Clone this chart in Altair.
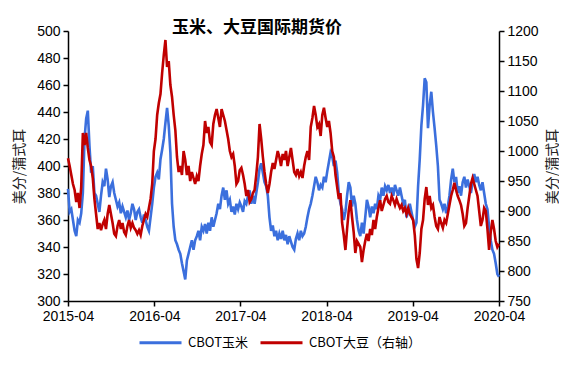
import altair as alt
import pandas as pd

TITLE = "玉米、大豆国际期货价"
UNIT = "美分/蒲式耳"
SERIES = ["CBOT玉米", "CBOT大豆（右轴）"]
COLORS = ["#3B6FDD", "#C00000"]
START = "2015-04-01"
TICK_YEARS = [2015, 2016, 2017, 2018, 2019, 2020]

# weekly CBOT corn (cents/bushel)
corn = [
    383, 366, 368, 360, 352, 348, 360, 358, 365, 380, 420, 435, 441,
    415, 395, 400, 380, 378, 372, 366, 378, 388, 385, 398, 390, 377,
    385, 388, 380, 375, 370, 373, 365, 370, 366, 362, 367, 360, 365,
    372, 368, 360, 366, 368, 362, 358, 364, 360, 355, 352, 362, 372,
    384, 392, 395, 390, 405, 412, 420, 432, 443, 430, 410, 372, 355,
    345, 342, 338, 335, 328, 322, 316, 330, 335, 340, 345, 338, 345,
    348, 352, 345, 355, 352, 357, 350, 358, 352, 362, 355, 360, 365,
    372, 368, 378, 384, 375, 382, 372, 375, 366, 370, 364, 372, 368,
    373, 370, 366, 374, 372, 378, 382, 372, 378, 372, 380, 388, 398,
    402, 395, 388, 385, 378, 362, 352, 356, 348, 352, 345, 350, 346,
    352, 345, 349, 342, 348, 344, 340, 338, 346, 350, 345, 352, 348,
    350, 355, 362, 368, 372, 378, 385, 392, 388, 382, 386, 384, 392,
    388, 396, 403, 410, 407, 400, 404, 395, 380, 372, 368, 360, 366,
    378, 388, 384, 370, 378, 372, 360, 352, 348, 358, 350, 362, 375,
    370, 362, 370, 365, 372, 368, 378, 375, 384, 378, 385, 382, 386,
    380, 384, 378, 386, 382, 378, 384, 378, 372, 375, 362, 366, 372,
    366, 360, 355, 358, 385, 405, 430, 445, 465, 462, 428, 445, 455,
    440, 428, 415, 400, 375, 372, 368, 372, 365, 370, 378, 390, 398,
    388, 392, 380, 385, 378, 388, 392, 384, 390, 385, 380, 388, 394,
    388, 392, 386, 382, 388, 380, 372, 368, 355, 345, 338, 335, 328,
    320, 318,
]

# weekly CBOT soybeans (cents/bushel)
soy = [
    988, 975, 960, 945, 935, 915, 930, 905, 940, 1030, 1010, 1030, 1005,
    985, 975, 955, 920, 895, 870, 880, 868, 878, 885, 870, 895, 910,
    895, 880, 862, 858, 875, 885, 870, 880, 865, 860, 875, 885, 872,
    880, 872, 868, 862, 868, 860, 875, 885, 895, 890, 905, 920, 945,
    1000, 1020, 1060, 1080, 1095, 1130, 1160, 1185, 1140, 1150, 1110, 1090, 1060,
    1035, 990, 965, 975, 960, 1000, 985, 960, 975, 950, 965, 955, 945,
    958, 950, 975, 995, 1010, 1050, 1030, 1040, 1015, 1010, 1045, 1060, 1070,
    1055, 1040, 1070, 1060, 1050, 1035, 1020, 1000, 990, 995, 975, 945, 950,
    968, 972, 960, 945, 925, 935, 915, 920, 930, 935, 960, 990, 1045,
    1020, 990, 965, 945, 930, 945, 965, 980, 970, 985, 1000, 990, 975,
    995, 985, 1000, 975, 990, 1005, 985, 965, 960, 970, 958, 965, 955,
    975, 990, 1000, 985, 1040, 1055, 1075, 1060, 1040, 1045, 1025, 1060, 1072,
    1055, 1040, 1050, 1030, 1000, 990, 960, 940, 920, 930, 880, 860, 835,
    870, 900, 918, 890, 865, 830, 850, 845, 840, 815, 835, 850, 862,
    850, 870, 860, 885, 870, 890, 905, 918, 900, 910, 920, 925, 915,
    912, 925, 918, 910, 920, 912, 905, 910, 900, 905, 895, 905, 895,
    890, 885, 860, 820, 805, 830, 870, 885, 920, 940, 910, 925, 905,
    910, 890, 875, 870, 890, 880, 872, 885, 880, 895, 910, 925, 935,
    947, 935, 925, 918, 910, 895, 875, 880, 905, 925, 945, 955, 945,
    935, 925, 900, 875, 885, 905, 900, 870, 835, 865, 885, 870, 850,
    840, 845,
]

dates = pd.date_range(START, periods=len(corn), freq="7D")
df_corn = pd.DataFrame({"date": dates, "value": corn, "series": SERIES[0]})
df_soy = pd.DataFrame({"date": dates[: len(soy)], "value": soy, "series": SERIES[1]})

FONT = "Liberation Sans"
CJK = "Noto Sans CJK SC"

x_enc = alt.X(
    "date:T",
    scale=alt.Scale(domain=[alt.DateTime(year=2015, month=4, date=1),
                            alt.DateTime(year=2020, month=4, date=1)]),
    axis=alt.Axis(
        title=None, format="%Y-%m", grid=False,
        values=[alt.DateTime(year=y, month=4, date=1) for y in TICK_YEARS],
        domainColor="black", tickColor="black", tickSize=5, domainWidth=1.5, tickWidth=1.5,
        labelFont=FONT, labelFontSize=14, labelColor="black", labelPadding=3,
        labelFlush=False,
    ),
)

color_enc = alt.Color(
    "series:N",
    scale=alt.Scale(domain=SERIES, range=COLORS),
    legend=alt.Legend(
        title=None, orient="none", direction="horizontal",
        legendX=70, legendY=289, padding=0,
        symbolType="stroke", symbolSize=1764, symbolStrokeWidth=3,
        labelFont=CJK, labelFontSize=13, labelColor="black",
        labelOffset=5, columnPadding=6,
    ),
)

def yaxis(orient, title_x, fmt_values):
    return alt.Axis(
        orient=orient, title=UNIT, grid=False, values=fmt_values, format="d",
        domainColor="black", tickColor="black", tickSize=5, domainWidth=1.5, tickWidth=1.5,
        labelFont=FONT, labelFontSize=14, labelColor="black", labelPadding=3,
        titleFont=CJK, titleFontSize=14, titleFontWeight="normal", titleColor="#222222",
        titleAngle=270, titleX=title_x, titleY=135, titleAlign="center",
        titleBaseline="middle",
    )

corn_line = alt.Chart(df_corn).mark_line(strokeWidth=2.6).encode(
    x=x_enc,
    y=alt.Y("value:Q", scale=alt.Scale(domain=[300, 500], nice=False, zero=False),
            axis=yaxis("left", -49, list(range(300, 501, 20)))),
    color=color_enc,
)

soy_line = alt.Chart(df_soy).mark_line(strokeWidth=2.6).encode(
    x=x_enc,
    y=alt.Y("value:Q", scale=alt.Scale(domain=[750, 1200], nice=False, zero=False),
            axis=yaxis("right", 53, list(range(750, 1201, 50)))),
    color=color_enc,
)

title_mark = alt.Chart(pd.DataFrame({"t": [TITLE]})).mark_text(
    font=CJK, fontSize=17, fontWeight="bold", align="center", baseline="middle", color="black"
).encode(text="t:N", x=alt.value(189), y=alt.value(-3))

chart = (
    alt.layer(corn_line, soy_line, title_mark)
    .resolve_scale(y="independent")
    .properties(
        width=431, height=270,
        autosize=alt.AutoSizeParams(type="none"),
        padding={"left": 60, "top": 23, "right": 60, "bottom": 58},
    )
    .configure_view(stroke=None)
)

chart.save("out.html", embed_options={"renderer": "svg", "actions": False})
